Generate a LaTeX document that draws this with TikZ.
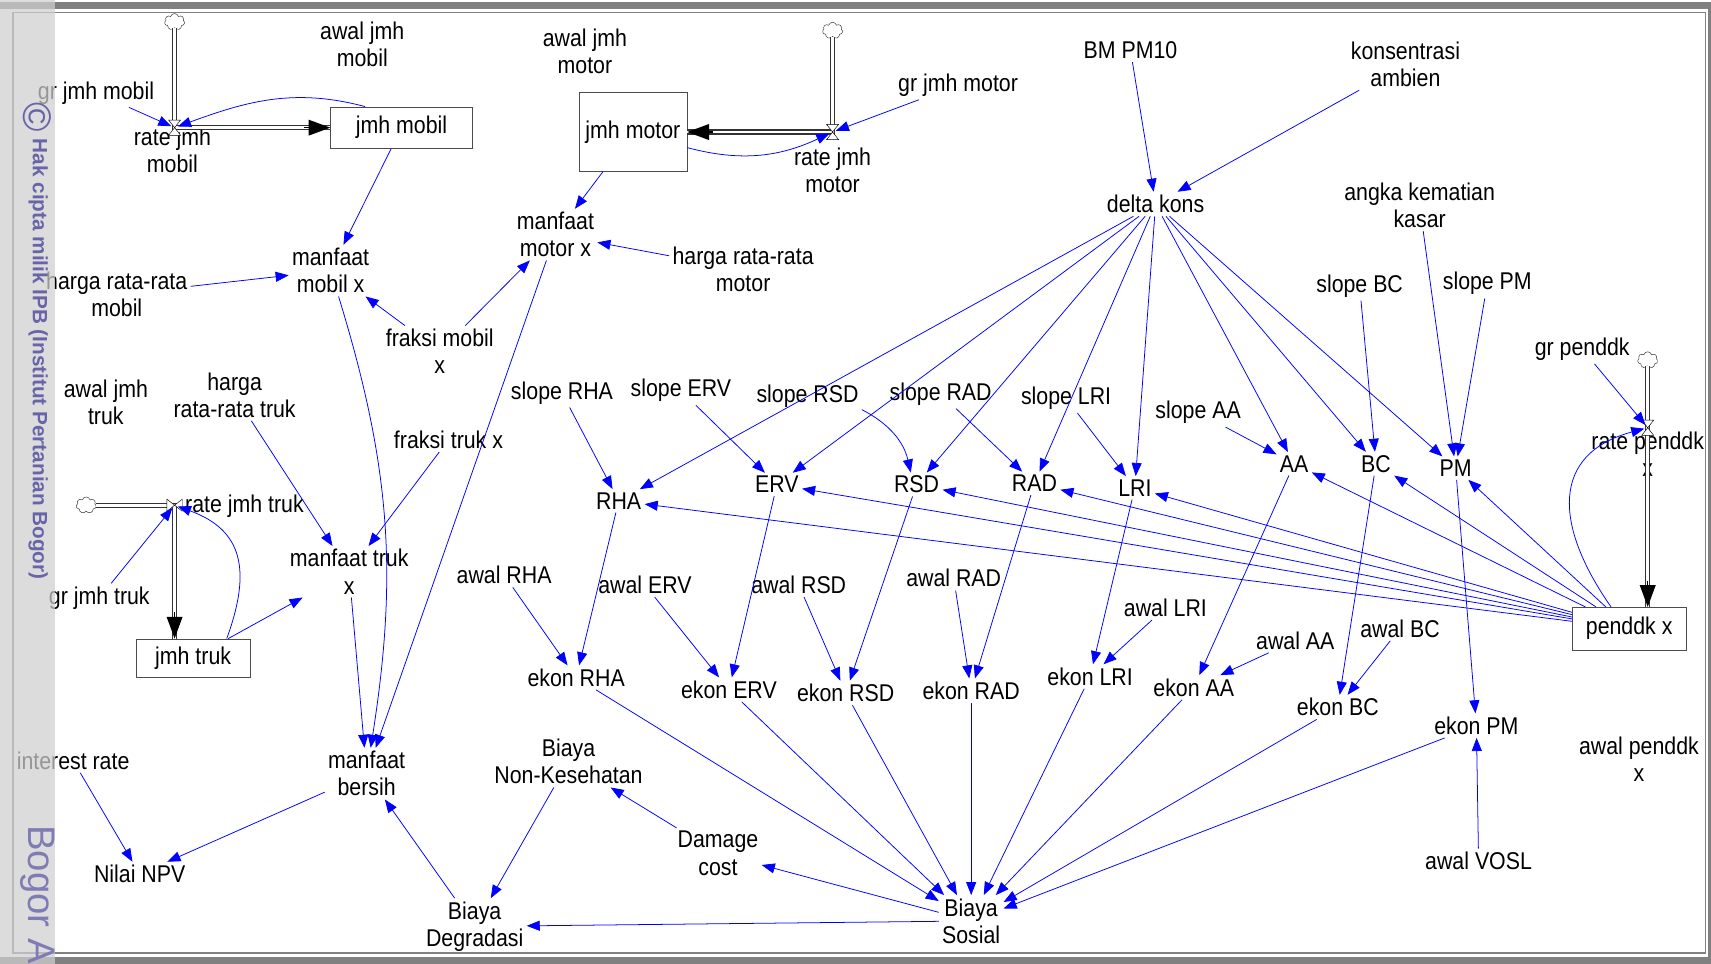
\documentclass[tikz,border=0pt]{standalone}
\usepackage{fontspec}
\setmainfont{Liberation Sans}
\newfontfamily\vfont[FakeStretch=0.88]{Liberation Sans}
\usetikzlibrary{arrows.meta,shapes.symbols,calc}
\definecolor{linkblue}{RGB}{0,0,255}
\definecolor{framegray}{RGB}{128,128,128}
\definecolor{wmpurple}{RGB}{104,100,168}
\definecolor{wmstrip}{RGB}{207,207,207}

\begin{document}
\begin{tikzpicture}[x=0.25mm, y=-0.25mm,
    var/.style={font=\vfont\fontsize{15.8}{17.7}\selectfont, align=center, inner sep=2pt},
    stock/.style={var, draw=black!70, line width=0.4pt, inner sep=0pt},
    link/.style={color=linkblue, line width=0.5pt, -{Triangle[length=3mm,width=2.3mm]}},
    pipe/.style={draw=black!80, line width=0.3mm, double=white, double distance=0.6mm},
    flowhead/.style={black, line width=0.3mm, -{Triangle[length=5mm,width=3.6mm]}},
    cloudnode/.style={shape=cloud, cloud puffs=7, draw=black!80, fill=white, line width=0.3pt,
                      minimum width=4.6mm, minimum height=3.8mm, inner sep=0pt},
    valve/.style={draw=black, fill=white, line width=0.3pt}]
  \useasboundingbox (0,0) rectangle (1568,883);
  % frame
  \fill[framegray] (0,1.5) rectangle (1568,8.5);
  \fill[framegray] (0,877) rectangle (1568,883);
  \fill[framegray] (1565.5,1.5) rectangle (1568,883);
  \draw[framegray, line width=0.4mm] (12,11.5) rectangle (1563,873.5);

  % mobil
  \node[cloudnode] (cmobil) at (160,20) {};
  \coordinate (vmobil) at (160,117);
  \node[var] (grmobil) at (88,85) {gr jmh mobil};
  \node[var] (ratemobil) at (158,138) {rate jmh\\mobil};
  \node[var] (awalmobil) at (332,41) {awal jmh\\mobil};
  \node[stock, minimum width=32.5mm, minimum height=9.5mm] (mobil) at (368,117) {jmh mobil};
  \node[var] (mmobil) at (303,248) {manfaat\\mobil x};
  \node[var] (hmobil) at (107,270) {harga rata-rata\\mobil};
  \node[var] (fmobil) at (403,322) {fraksi mobil\\x};
  % motor
  \node[cloudnode] (cmotor) at (763,28) {};
  \coordinate (vmotor) at (763,121);
  \node[var] (awalmotor) at (536,47) {awal jmh\\motor};
  \node[stock, minimum width=24.75mm, minimum height=18mm] (motor) at (580,121) {jmh motor};
  \node[var] (grmotor) at (878,78) {gr jmh motor};
  \node[var] (ratemotor) at (763,156) {rate jmh\\motor};
  \node[var] (mmotor) at (509,215) {manfaat\\motor x};
  \node[var] (hmotor) at (681,247) {harga rata-rata\\motor};
  % truk
  \node[cloudnode] (ctruk) at (79,463) {};
  \coordinate (vtruk) at (160,463);
  \node[var] (awaltruk) at (97,369) {awal jmh\\truk};
  \node[var] (htruk) at (215,362) {harga\\rata-rata truk};
  \node[var] (ftruk) at (411,403) {fraksi truk x};
  \node[var] (ratetruk) at (224,464) {rate jmh truk};
  \node[var] (grtruk) at (91,548) {gr jmh truk};
  \node[stock, minimum width=26.25mm, minimum height=8.75mm] (truk) at (177,603) {jmh truk};
  \node[var] (mtruk) at (320,524) {manfaat truk\\x};
  % hasil
  \node[var] (interest) at (67,697) {interest rate};
  \node[var] (npv) at (128,801) {Nilai NPV};
  \node[var] (mbersih) at (336,709) {manfaat\\bersih};
  \node[var] (bdeg) at (435,849) {Biaya\\Degradasi};
  \node[var] (bnon) at (521,698) {Biaya\\Non-Kesehatan};
  \node[var] (damage) at (658,782) {Damage\\cost};
  \node[var] (bsos) at (890,844) {Biaya\\Sosial};
  % kesehatan
  \node[var] (bm) at (1036,46) {BM PM10};
  \node[var] (kons) at (1288,59) {konsentrasi\\ambien};
  \node[var] (delta) at (1059,187) {delta kons};
  \node[var] (angka) at (1301,188) {angka kematian\\kasar};
  \node[var] (sRHA) at (515,360) {slope RHA};
  \node[var] (sERV) at (624,358) {slope ERV};
  \node[var] (sRSD) at (740,363) {slope RSD};
  \node[var] (sRAD) at (862,361) {slope RAD};
  \node[var] (sLRI) at (977,365) {slope LRI};
  \node[var] (sAA) at (1098,378) {slope AA};
  \node[var] (sBC) at (1246,262) {slope BC};
  \node[var] (sPM) at (1363,260) {slope PM};
  \node[var] (RHA) at (567,459) {RHA};
  \node[var] (ERV) at (712,444) {ERV};
  \node[var] (RSD) at (840,444) {RSD};
  \node[var] (RAD) at (948,443) {RAD};
  \node[var] (LRI) at (1040,447) {LRI};
  \node[var] (AA) at (1186,425) {AA};
  \node[var] (BC) at (1261,425) {BC};
  \node[var] (PM) at (1334,429) {PM};
  \node[var] (aRHA) at (462,527) {awal RHA};
  \node[var] (aERV) at (591,536) {awal ERV};
  \node[var] (aRSD) at (732,536) {awal RSD};
  \node[var] (aRAD) at (874,530) {awal RAD};
  \node[var] (aLRI) at (1068,557) {awal LRI};
  \node[var] (aAA) at (1187,587) {awal AA};
  \node[var] (aBC) at (1283,576) {awal BC};
  \node[var] (aVOSL) at (1355,789) {awal VOSL};
  \node[var] (eRHA) at (528,621) {ekon RHA};
  \node[var] (eERV) at (668,632) {ekon ERV};
  \node[var] (eRSD) at (775,635) {ekon RSD};
  \node[var] (eRAD) at (890,633) {ekon RAD};
  \node[var] (eLRI) at (999,620) {ekon LRI};
  \node[var] (eAA) at (1094,630) {ekon AA};
  \node[var] (eBC) at (1226,648) {ekon BC};
  \node[var] (ePM) at (1353,665) {ekon PM};
  % penddk
  \node[cloudnode] (cpenddk) at (1510,330) {};
  \coordinate (vpenddk) at (1510,392);
  \node[var] (grpend) at (1450,320) {gr penddk};
  \node[var] (ratepend) at (1510,416) {rate penddk\\x};
  \node[stock, minimum width=26mm, minimum height=9.75mm] (penddk) at (1493,576) {penddk x};
  \node[var] (awalpend) at (1502,696) {awal penddk\\x};

  % pipes
  \draw[pipe] (cmobil.south) |- (mobil.west);
  \draw[pipe] (cmotor.south) |- (motor.east);
  \draw[pipe] (ctruk.east) -| (vtruk |- truk.north);
  \draw[pipe] (cpenddk.south) -- (cpenddk.south |- penddk.north);
  \draw[flowhead] ($(mobil.west)+(-24,0)$) -- (mobil.west);
  \draw[flowhead] ($(motor.east)+(24,0)$) -- (motor.east);
  \draw[flowhead] ($(vtruk |- truk.north)+(0,-24)$) -- (vtruk |- truk.north);
  \draw[flowhead] ($(cpenddk.south |- penddk.north)+(0,-24)$) -- (cpenddk.south |- penddk.north);
  \draw[valve] ($(vmobil)+(-5.5,-7)$) -- ($(vmobil)+(5.5,-7)$) -- ($(vmobil)+(-5.5,7)$) -- ($(vmobil)+(5.5,7)$) -- cycle;
  \draw[valve] ($(vmotor)+(-5.5,-7)$) -- ($(vmotor)+(5.5,-7)$) -- ($(vmotor)+(-5.5,7)$) -- ($(vmotor)+(5.5,7)$) -- cycle;
  \draw[valve] ($(vpenddk)+(-5.5,-7)$) -- ($(vpenddk)+(5.5,-7)$) -- ($(vpenddk)+(-5.5,7)$) -- ($(vpenddk)+(5.5,7)$) -- cycle;
  \draw[valve] ($(vtruk)+(-7,-5.5)$) -- ($(vtruk)+(-7,5.5)$) -- ($(vtruk)+(7,-5.5)$) -- ($(vtruk)+(7,5.5)$) -- cycle;

  % links
  \draw[link, shorten >=0.8mm] (grmobil) -- (vmobil);
  \draw[link, shorten >=0.8mm] (mobil.150) to[out=165,in=20] (vmobil);
  \draw[link] (mobil) -- (mmobil);
  \draw[link] (hmobil) -- (mmobil);
  \draw[link] (fmobil) -- (mmobil);
  \draw[link] (fmobil) -- (mmotor);
  \draw[link, shorten >=0.8mm] (grmotor) -- (vmotor);
  \draw[link, shorten >=0.8mm] (motor.-16) to[out=-15,in=-155] (vmotor);
  \draw[link] (motor) -- (mmotor);
  \draw[link] (hmotor) -- (mmotor);
  \draw[link] (mmobil) to[bend left=13] (mbersih);
  \draw[link] (mmotor) -- (mbersih);
  \draw[link, shorten >=0.8mm] (grtruk) -- (vtruk);
  \draw[link, shorten >=0.8mm] (truk.30) to[out=70,in=-20,looseness=1.3] (vtruk);
  \draw[link] (truk) -- (mtruk);
  \draw[link] (htruk) -- (mtruk);
  \draw[link] (ftruk) -- (mtruk);
  \draw[link] (mtruk) -- (mbersih);
  \draw[link] (interest) -- (npv);
  \draw[link] (mbersih) -- (npv);
  \draw[link] (bdeg) -- (mbersih);
  \draw[link] (bnon) -- (bdeg);
  \draw[link] (damage) -- (bnon);
  \draw[link] (bsos) -- (bdeg);
  \draw[link] (bsos) -- (damage);
  \draw[link] (bm) -- (delta);
  \draw[link] (kons) -- (delta);
  \draw[link] (delta) -- (RHA);
  \draw[link] (delta) -- (ERV);
  \draw[link] (delta) -- (RSD);
  \draw[link] (delta) -- (RAD);
  \draw[link] (delta) -- (LRI);
  \draw[link] (delta) -- (AA);
  \draw[link] (delta) -- (BC);
  \draw[link] (delta) -- (PM);
  \draw[link] (sRHA) -- (RHA);
  \draw[link] (sERV) -- (ERV);
  \draw[link] (sRSD) to[bend left=25] (RSD);
  \draw[link] (sRAD) -- (RAD);
  \draw[link] (sLRI) -- (LRI);
  \draw[link] (sAA) -- (AA);
  \draw[link] (sBC) -- (BC);
  \draw[link] (sPM) -- (PM);
  \draw[link] (angka) -- (PM);
  \draw[link] (penddk) -- (RHA);
  \draw[link] (penddk) -- (ERV);
  \draw[link] (penddk) -- (RSD);
  \draw[link] (penddk) -- (RAD);
  \draw[link] (penddk) -- (LRI);
  \draw[link] (penddk) -- (AA);
  \draw[link] (penddk) -- (BC);
  \draw[link] (penddk) -- (PM);
  \draw[link, shorten >=0.8mm] (grpend) -- (vpenddk);
  \draw[link, shorten >=0.8mm] (penddk.130) to[out=125,in=195,looseness=1.4] (vpenddk);
  \draw[link] (RHA) -- (eRHA);
  \draw[link] (ERV) -- (eERV);
  \draw[link] (RSD) -- (eRSD);
  \draw[link] (RAD) -- (eRAD);
  \draw[link] (LRI) -- (eLRI);
  \draw[link] (AA) -- (eAA);
  \draw[link] (BC) -- (eBC);
  \draw[link] (PM) -- (ePM);
  \draw[link] (aRHA) -- (eRHA);
  \draw[link] (aERV) -- (eERV);
  \draw[link] (aRSD) -- (eRSD);
  \draw[link] (aRAD) -- (eRAD);
  \draw[link] (aLRI) -- (eLRI);
  \draw[link] (aAA) -- (eAA);
  \draw[link] (aBC) -- (eBC);
  \draw[link] (aVOSL) -- (ePM);
  \draw[link] (eRHA) -- (bsos);
  \draw[link] (eERV) -- (bsos);
  \draw[link] (eRSD) -- (bsos);
  \draw[link] (eRAD) -- (bsos);
  \draw[link] (eLRI) -- (bsos);
  \draw[link] (eAA) -- (bsos);
  \draw[link] (eBC) -- (bsos);
  \draw[link] (ePM) -- (bsos);

  % watermark
  \fill[wmstrip, opacity=0.73] (0,0) rectangle (50,883);
  \node[rotate=-90, text=wmpurple, font=\fontsize{26}{26}\selectfont, inner sep=0pt] (wmcopy) at (34,107) {\textcopyright};
  \node[rotate=-90, anchor=west, text=wmpurple, font=\bfseries\fontsize{13.5}{14}\selectfont, inner sep=0pt] (wmhak) at (35,127) {Hak cipta milik IPB (Institut Pertanian Bogor)};
  \node[rotate=-90, anchor=west, text=wmpurple!85, font=\fontsize{25}{26}\selectfont, inner sep=0pt] (wmbogor) at (35,756) {Bogor A};
\end{tikzpicture}
\end{document}
